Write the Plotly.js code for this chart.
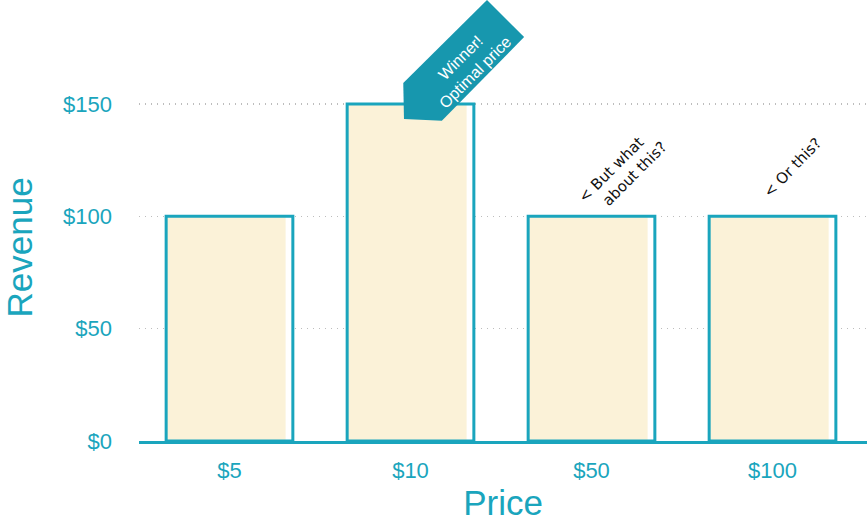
<!DOCTYPE html>
<html><head><meta charset="utf-8">
<script src="https://cdn.plot.ly/plotly-3.0.1.min.js"></script>
<style>html,body{margin:0;padding:0;background:#fff}#chart{width:867px;height:522px}</style>
</head><body><div id="chart"></div>
<script>
const prices = ['$5', '$10', '$50', '$100'];
const revenue = [100, 150, 100, 100];
const yTickVals = [0, 50, 100, 150];
const yTickText = ['$0', '$50', '$100', '$150'];

const TEAL = '#1aa5bd';
const CREAM = '#fbf2d8';
const FONT = 'Liberation Sans, Arial, sans-serif';

const base = {type: 'bar', x: prices, y: revenue, width: 0.7, offset: -0.35,
  marker: {color: '#ffffff', line: {width: 0}}, hoverinfo: 'skip', showlegend: false};
const cream = {type: 'bar', x: prices, y: revenue, width: 0.655, offset: -0.345,
  marker: {color: CREAM, line: {width: 0}}, hoverinfo: 'skip', showlegend: false};
const outline = {type: 'bar', x: prices, y: revenue, width: 0.7, offset: -0.35,
  marker: {color: 'rgba(0,0,0,0)', line: {color: TEAL, width: 3}}, hoverinfo: 'skip', showlegend: false};

const layout = {
  width: 867, height: 522,
  margin: {l: 139, r: 0, t: 0, b: 81},
  paper_bgcolor: '#fff', plot_bgcolor: '#fff',
  barmode: 'overlay',
  font: {family: FONT, color: TEAL},
  xaxis: {
    type: 'category', range: [-0.5, 3.522],
    showline: true, linecolor: TEAL, linewidth: 3,
    showgrid: false, zeroline: false, ticks: '',
    ticklabelstandoff: 8,
    tickfont: {size: 22, color: TEAL, family: FONT},
    title: {text: 'Price', font: {size: 35, color: TEAL, family: FONT}, standoff: 10}
  },
  yaxis: {
    range: [0, 196.3], tickvals: yTickVals, ticktext: yTickText,
    showline: false, zeroline: false, ticks: '',
    showgrid: true, gridcolor: '#bdbdbd', griddash: '1px,5px', gridwidth: 1.2,
    ticklabelstandoff: 26,
    tickfont: {size: 22, color: TEAL, family: FONT}
  },
  shapes: [{
    type: 'path', xref: 'paper', yref: 'paper',
    path: 'M 0.478 1.0 L 0.529 0.916 L 0.416 0.726 L 0.364 0.730 L 0.363 0.812 Z',
    fillcolor: '#1797ae', line: {width: 0}, layer: 'above'
  }],
  annotations: [
    {xref: 'paper', yref: 'paper', x: -0.164, y: 0.438, xanchor: 'center', yanchor: 'middle',
     showarrow: false, text: 'Revenue', textangle: -90,
     font: {size: 35, color: TEAL, family: FONT}},
    {xref: 'paper', yref: 'paper', x: 0.452, y: 0.852, xanchor: 'center', yanchor: 'middle',
     showarrow: false, text: 'Winner!<br>Optimal price', textangle: -45,
     font: {size: 16, color: '#ffffff', family: FONT}},
    {xref: 'x', yref: 'y', x: 2.174, y: 119.7, xanchor: 'center', yanchor: 'middle',
     showarrow: false, text: '&lt; But what<br>   about this?', textangle: -45, align: 'left',
     font: {size: 15, color: '#111111', family: 'DejaVu Sans, sans-serif'}},
    {xref: 'x', yref: 'y', x: 3.108, y: 121.5, xanchor: 'center', yanchor: 'middle',
     showarrow: false, text: '&lt; Or this?', textangle: -46,
     font: {size: 15, color: '#111111', family: 'DejaVu Sans, sans-serif'}}
  ]
};

Plotly.newPlot('chart', [base, cream, outline], layout, {displayModeBar: false, staticPlot: true});
</script></body></html>
